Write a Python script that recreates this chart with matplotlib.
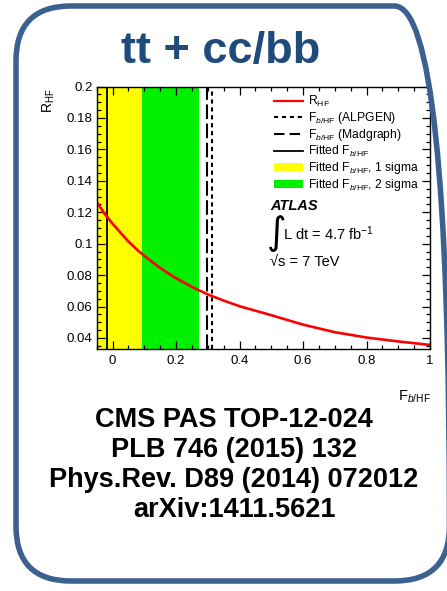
import matplotlib
matplotlib.use("Agg")
import matplotlib.pyplot as plt
from matplotlib.patches import FancyBboxPatch, Patch
from matplotlib.lines import Line2D
from matplotlib.ticker import MultipleLocator, FuncFormatter
from matplotlib.transforms import IdentityTransform

plt.rcParams['font.family'] = ['Liberation Sans', 'DejaVu Sans']
plt.rcParams['mathtext.fontset'] = 'custom'
plt.rcParams['mathtext.rm'] = 'Liberation Sans'
plt.rcParams['mathtext.it'] = 'Liberation Sans:italic'
plt.rcParams['mathtext.bf'] = 'Liberation Sans:bold'

# R_HF as a function of F_b/HF
f_bhf = [-0.05, -0.025, 0.0, 0.025, 0.05, 0.075, 0.1, 0.15, 0.2, 0.25, 0.3, 0.35,
         0.4, 0.5, 0.6, 0.7, 0.8, 0.9, 1.0]
r_hf = [0.1265, 0.119, 0.1127, 0.107, 0.1014, 0.0966, 0.0922, 0.0845, 0.078, 0.0725,
        0.0677, 0.0638, 0.0602, 0.0545, 0.0485, 0.0437, 0.0403, 0.0378, 0.0356]

# vertical markers
f_alpgen = 0.314
f_madgraph = 0.298
f_fitted = -0.018
band_1sigma = (-0.05, 0.092)
band_2sigma = (0.092, 0.272)

title = "tt + cc/bb"
refs = ["CMS PAS TOP-12-024", "PLB 746 (2015) 132",
        "Phys.Rev. D89 (2014) 072012", "arXiv:1411.5621"]

W, H = 447, 591
fig = plt.figure(figsize=(W / 100, H / 100), dpi=100)

def fx(px):
    return px / W

def fy(py):
    return 1 - py / H

# rounded frame around everything
frame = FancyBboxPatch((16, H - 581), 433.5, 575,
                       boxstyle="round,pad=0,rounding_size=55",
                       transform=IdentityTransform(), fill=False,
                       edgecolor='#3C6190', linewidth=4.0)
fig.patches.append(frame)

fig.text(fx(221), fy(63), title, ha='center', va='baseline',
         fontsize=32.5, fontweight='bold', color='#1F4A7C')

ax = fig.add_axes([fx(96.7), fy(349), fx(430) - fx(96.7), fy(86.5) - fy(349)])
ax.set_xlim(-0.05, 1.0)
ax.set_ylim(0.033, 0.2)

ax.axvspan(*band_1sigma, color='#FFFF00', lw=0, zorder=1)
ax.axvspan(*band_2sigma, color='#00F000', lw=0, zorder=1)
ax.axvline(f_fitted, color='black', lw=1.3, zorder=2)
ax.axvline(f_madgraph, color='black', lw=1.5, linestyle=(0, (7, 2.2)), zorder=2)
ax.axvline(f_alpgen, color='black', lw=1.5, linestyle=(0, (2, 1.8)), zorder=2)
ax.plot(f_bhf, r_hf, color='red', lw=1.9, zorder=3)

ax.xaxis.set_major_locator(MultipleLocator(0.2))
ax.xaxis.set_minor_locator(MultipleLocator(0.05))
ax.yaxis.set_major_locator(MultipleLocator(0.02))
ax.yaxis.set_minor_locator(MultipleLocator(0.005))
fmt = FuncFormatter(lambda v, p: '%g' % round(v, 3))
ax.xaxis.set_major_formatter(fmt)
ax.yaxis.set_major_formatter(fmt)
ax.tick_params(which='both', direction='in', top=True, right=True, labelsize=9.5,
               width=0.9, colors='black')
ax.tick_params(which='major', length=6)
ax.tick_params(which='minor', length=3)
ax.tick_params(axis='x', pad=4)
ax.tick_params(axis='y', pad=3)
for s in ax.spines.values():
    s.set_linewidth(1.0)
    s.set_zorder(5)

handles = [
    Line2D([], [], color='red', lw=1.6),
    Line2D([], [], color='black', lw=1.5, linestyle=(0, (2, 1.8))),
    Line2D([], [], color='black', lw=1.5, linestyle=(0, (5, 2.5))),
    Line2D([], [], color='black', lw=1.3),
    Patch(facecolor='#FFFF00', edgecolor='none'),
    Patch(facecolor='#00F000', edgecolor='none'),
]
labels = [
    r'R$_{\rm HF}$',
    r'F$_{b/{\rm HF}}$ (ALPGEN)',
    r'F$_{b/{\rm HF}}$ (Madgraph)',
    r'Fitted F$_{b/{\rm HF}}$',
    r'Fitted F$_{b/{\rm HF}}$, 1 sigma',
    r'Fitted F$_{b/{\rm HF}}$, 2 sigma',
]
ax.legend(handles, labels, loc='upper left', bbox_to_anchor=(fx(274), fy(94)),
          bbox_transform=fig.transFigure, frameon=False, fontsize=8.7,
          handlelength=2.4, handleheight=0.7, handletextpad=0.45,
          labelspacing=0.08, borderpad=0, borderaxespad=0)

fig.text(fx(270), fy(210), 'ATLAS', fontsize=10.5, fontweight='bold',
         fontstyle='italic', va='baseline')
fig.text(fx(267), fy(244), '\u222b', fontsize=27, va='baseline',
         family=['DejaVu Sans'])
fig.text(fx(283), fy(240), r'L dt = 4.7 fb$^{\mathdefault{-1}}$', fontsize=10.5, va='baseline')
fig.text(fx(270), fy(266), '\u221as = 7 TeV', fontsize=10.5, va='baseline')

fig.text(fx(49), fy(88), r'R$_{\rm HF}$', rotation=90, ha='center', va='top', fontsize=10)
fig.text(fx(431), fy(401), r'F$_{b/{\rm HF}}$', ha='right', va='baseline', fontsize=10.5)

for i, line in enumerate(refs):
    fig.text(fx(234), fy(426.7 + 30 * i), line, ha='center', va='baseline',
             fontsize=19.5, fontweight='bold', color='black')

fig.savefig('out.png', dpi=100)
